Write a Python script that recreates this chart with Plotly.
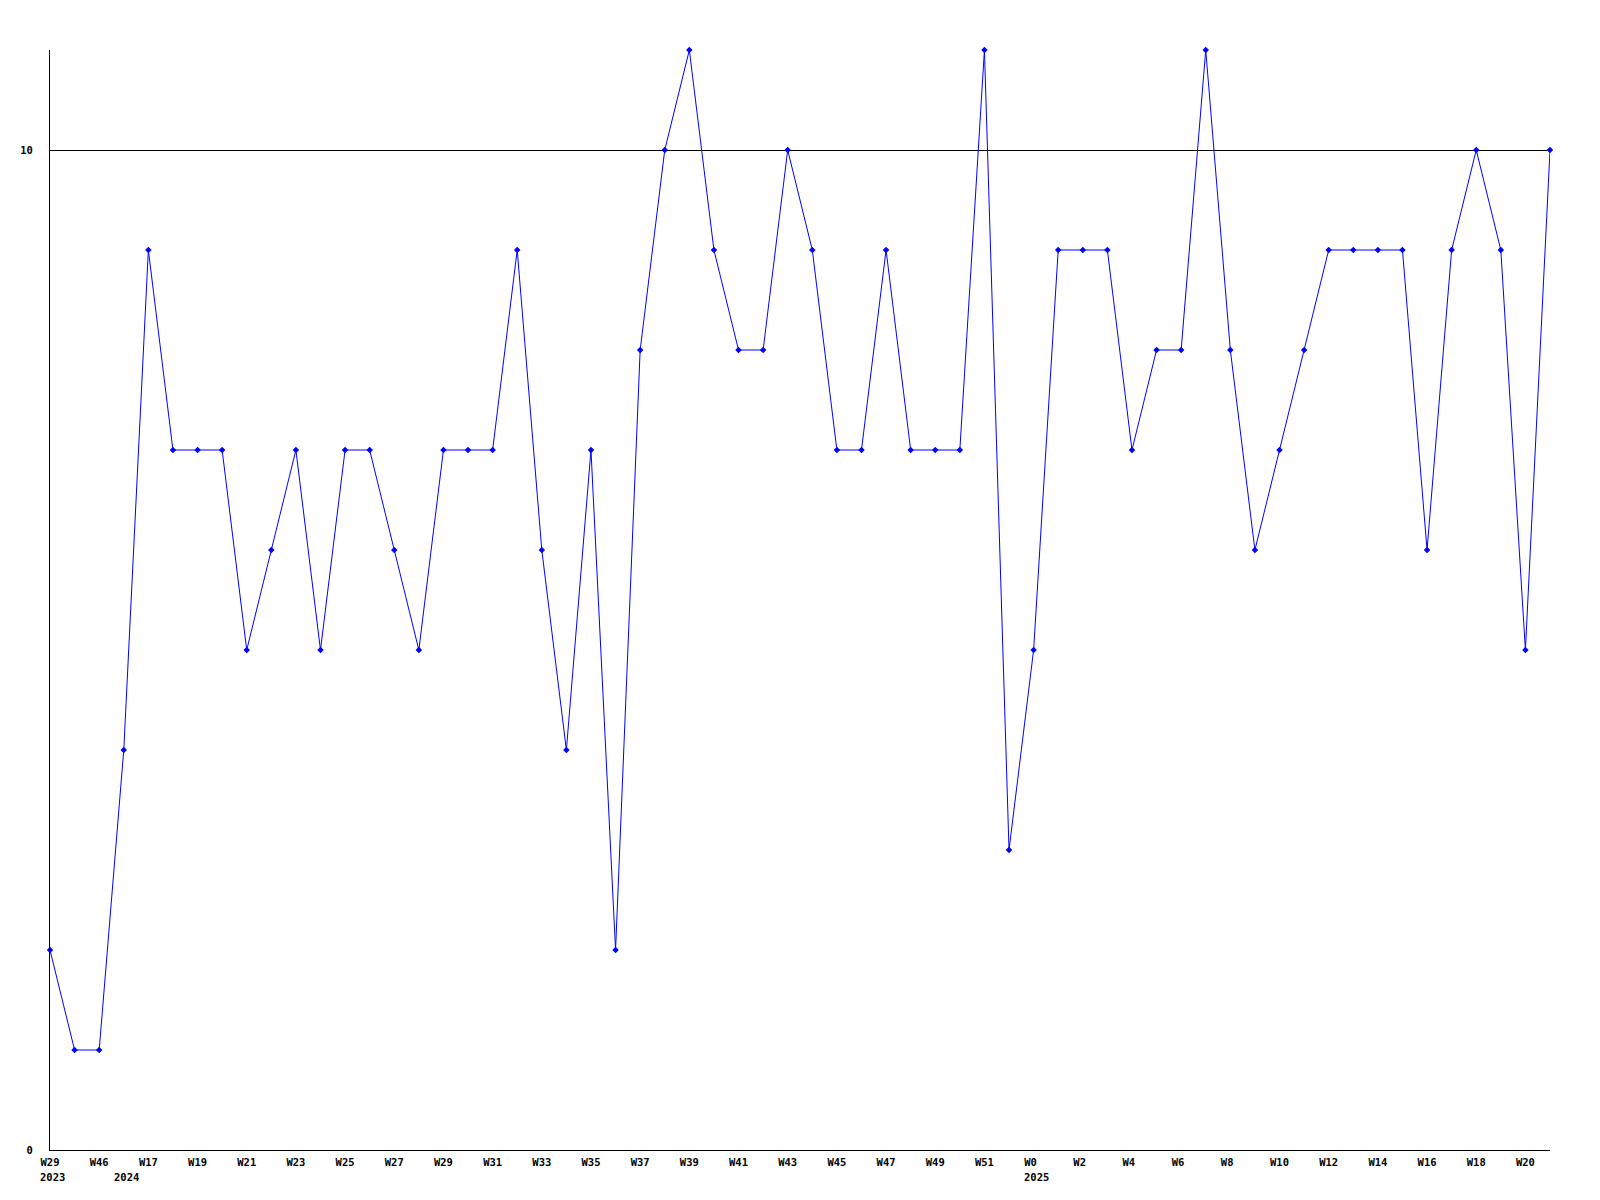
import plotly.graph_objects as go

# Week labels (only every other point is labelled in the reference)
tick_labels = ["W29", "W46", "W17", "W19", "W21", "W23", "W25", "W27", "W29", "W31",
               "W33", "W35", "W37", "W39", "W41", "W43", "W45", "W47", "W49", "W51",
               "W0", "W2", "W4", "W6", "W8", "W10", "W12", "W14", "W16", "W18", "W20"]
year_labels = ["2023", "2024", "2025"]
year_label_points = [0, 3, 40]

values = [2, 1, 1, 4, 9, 7, 7, 7, 5, 6,
          7, 5, 7, 7, 6, 5, 7, 7, 7, 9,
          6, 4, 7, 2, 8, 10, 11, 9, 8, 8,
          10, 9, 7, 7, 9, 7, 7, 7, 11, 3,
          5, 9, 9, 9, 7, 8, 8, 11, 8, 6,
          7, 8, 9, 9, 9, 9, 6, 9, 10, 9,
          5, 10]

x = list(range(len(values)))
tickvals = x[::2]
# labels are left-aligned in the original; pad short ones to 3 chars
tick_text = [t + "\u00a0" * (3 - len(t)) for t in tick_labels]

FONT = dict(family="DejaVu Sans Mono", size=10.5, color="black", weight="bold")

fig = go.Figure()
fig.add_trace(go.Scatter(
    x=x, y=values, mode="lines+markers",
    line=dict(color="#0000ff", width=1),
    marker=dict(symbol="diamond", size=5, color="#0000ff"),
    showlegend=False, cliponaxis=False,
))

for yl, idx in zip(year_labels, year_label_points):
    fig.add_annotation(x=idx, y=0, xref="x", yref="paper", text=yl,
                       showarrow=False, yanchor="top", xanchor="left",
                       xshift=-12, yshift=-19, font=FONT)

fig.update_layout(
    width=1584, height=1184,
    margin=dict(l=42, r=42, t=42, b=42, autoexpand=False),
    paper_bgcolor="white", plot_bgcolor="white",
    font=FONT,
)
fig.update_xaxes(
    range=[0, len(values) - 1], tickvals=tickvals, ticktext=tick_text,
    showgrid=False, zeroline=False, showline=True, linecolor="black", linewidth=1,
    ticks="", tickfont=FONT, tickangle=0, ticklabelstandoff=2,
)
fig.update_yaxes(
    range=[0, 11], tickvals=[0, 10], ticktext=["0", "10"],
    showgrid=True, gridcolor="black", gridwidth=1, zeroline=False,
    showline=True, linecolor="black", linewidth=1,
    ticks="", tickfont=FONT, ticklabelstandoff=14,
)

fig.write_html("out.html")
